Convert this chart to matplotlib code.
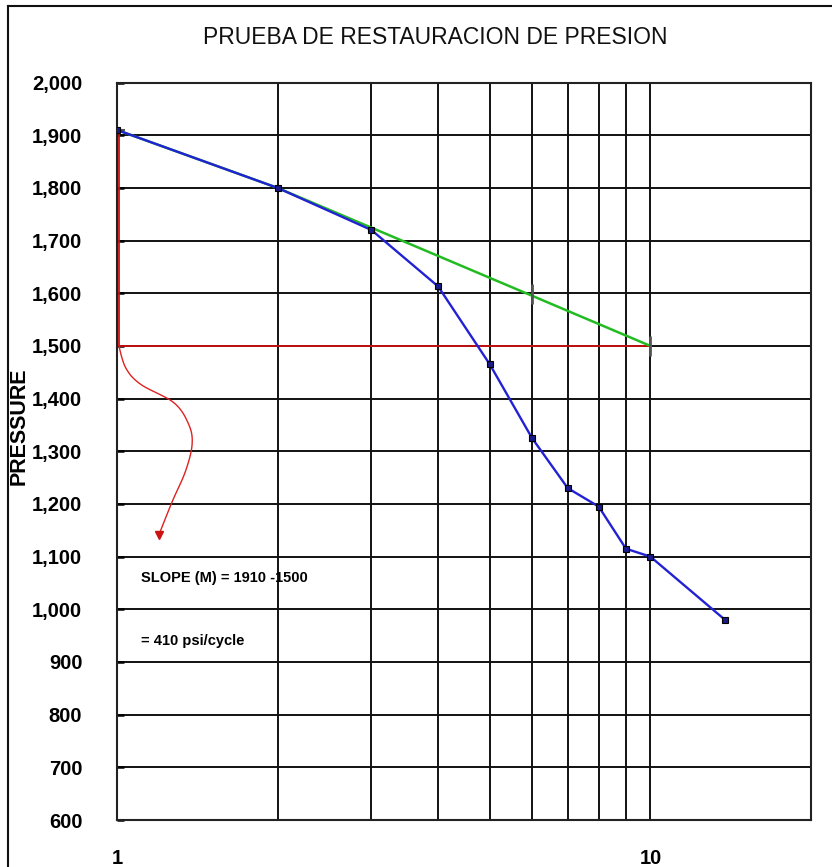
import numpy as np
import matplotlib
matplotlib.use("Agg")
import matplotlib.pyplot as plt
from matplotlib.lines import Line2D
from matplotlib.ticker import FixedLocator, FuncFormatter, NullFormatter

# buildup test: time (log cycles) vs pressure [psi]
TIME = [1, 2, 3, 4, 5, 6, 7, 8, 9, 10, 13.8]
PRESSURE = [1910, 1800, 1720, 1613, 1465, 1325, 1230, 1195, 1115, 1100, 980]

# straight line fitted on the early points (slope m)
SLOPE_X = [1, 2, 10]
SLOPE_Y = [1910, 1800, 1500]
SLOPE_TICK_X = [6, 10]
SLOPE_TICK_Y = [1598, 1500]

# red construction lines + hand-drawn arrow
RED_X = [1.008, 1.008, 10]
RED_Y = [1905, 1500, 1500]
CURVE_X = [1.008, 1.039, 1.108, 1.279, 1.363, 1.383, 1.344, 1.270, 1.199]
CURVE_Y = [1500, 1458, 1427, 1392, 1351, 1313, 1262, 1205, 1142]

Y_TICKS = list(range(600, 2001, 100))
X_MAJOR = [1, 10]
X_MINOR = [2, 3, 4, 5, 6, 7, 8, 9]

TITLE = "PRUEBA DE RESTAURACION DE PRESION"
NOTE_1 = "SLOPE (M) = 1910 -1500"
NOTE_2 = "= 410 psi/cycle"

FONT = ["Liberation Sans", "DejaVu Sans"]


def catmull_rom(xs, ys, n=12):
    pts = np.column_stack([np.log10(xs), ys])
    pts = np.vstack([pts[0], pts, pts[-1]])
    out = []
    for i in range(1, len(pts) - 2):
        p0, p1, p2, p3 = pts[i - 1], pts[i], pts[i + 1], pts[i + 2]
        for t in np.linspace(0, 1, n, endpoint=False):
            t2, t3 = t * t, t * t * t
            out.append(0.5 * ((2 * p1) + (-p0 + p2) * t + (2 * p0 - 5 * p1 + 4 * p2 - p3) * t2
                              + (-p0 + 3 * p1 - 3 * p2 + p3) * t3))
    out.append(pts[-2])
    out = np.array(out)
    return 10 ** out[:, 0], out[:, 1]


def main():
    plt.rcParams["font.family"] = FONT
    fig = plt.figure(figsize=(8.32, 8.67), dpi=100)
    ax = fig.add_axes([0.1406, 0.0542, 0.8341, 0.8506])

    ax.set_xscale("log")
    ax.set_xlim(1, 20)
    ax.set_ylim(600, 2000)

    ax.xaxis.set_major_locator(FixedLocator(X_MAJOR))
    ax.xaxis.set_minor_locator(FixedLocator(X_MINOR))
    ax.xaxis.set_major_formatter(FuncFormatter(lambda v, p: f"{v:g}"))
    ax.xaxis.set_minor_formatter(NullFormatter())
    ax.yaxis.set_major_locator(FixedLocator(Y_TICKS))
    ax.yaxis.set_major_formatter(FuncFormatter(lambda v, p: f"{int(v):,}"))

    ax.grid(True, which="both", color="#111111", lw=1.4)
    ax.set_axisbelow(True)
    for s in ax.spines.values():
        s.set_color("#222"); s.set_linewidth(1.5)

    ax.tick_params(axis="y", which="major", direction="in", length=5, width=1.8,
                   pad=25, labelsize=14.5)
    ax.tick_params(axis="x", which="both", length=0, pad=21, labelsize=14.5)
    for lab in ax.get_xticklabels() + ax.get_yticklabels():
        lab.set_fontweight("bold")

    # construction lines
    ax.plot(RED_X, RED_Y, color="#cc1111", lw=1.3, zorder=3)
    cx, cy = catmull_rom(CURVE_X, CURVE_Y)
    ax.plot(cx, cy, color="#dd2222", lw=1.0, zorder=3)
    ax.plot(CURVE_X[-1], CURVE_Y[-1], marker="v", ms=6, color="#cc1111", zorder=4)

    ax.plot(SLOPE_X, SLOPE_Y, color="#22bb22", lw=1.8, zorder=4)
    ax.plot(SLOPE_TICK_X, SLOPE_TICK_Y, ls="none", marker="|", ms=14, mew=2,
            color="#555555", zorder=4)
    ax.plot(SLOPE_X[0], SLOPE_Y[0], marker="_", ms=12, mew=1.5, color="#555555", zorder=4)

    # measured data
    ax.plot(TIME, PRESSURE, color="#2222d4", lw=1.7, marker="s", ms=4,
            mfc="#1a1a8a", mec="black", mew=0.8, zorder=5)

    ax.text(1.108, 1060, NOTE_1, fontsize=10.5, fontweight="bold", va="center", ha="left")
    ax.text(1.108, 940, NOTE_2, fontsize=10.5, fontweight="bold", va="center", ha="left")

    fig.text(0.523, 0.957, TITLE, fontsize=16.5, ha="center", va="center", color="#111")
    fig.text(0.023, 0.508, "PRESSURE", fontsize=15.5, fontweight="bold", rotation=90,
             ha="center", va="center")

    # figure frame (left + top)
    fig.add_artist(Line2D([0.0096, 0.0096], [0, 0.993], transform=fig.transFigure,
                          color="#111", lw=1.5))
    fig.add_artist(Line2D([0.0096, 1.0], [0.993, 0.993], transform=fig.transFigure,
                          color="#111", lw=1.5))

    fig.savefig("out.png", dpi=100, facecolor="white")
    plt.close(fig)


if __name__ == "__main__":
    main()
